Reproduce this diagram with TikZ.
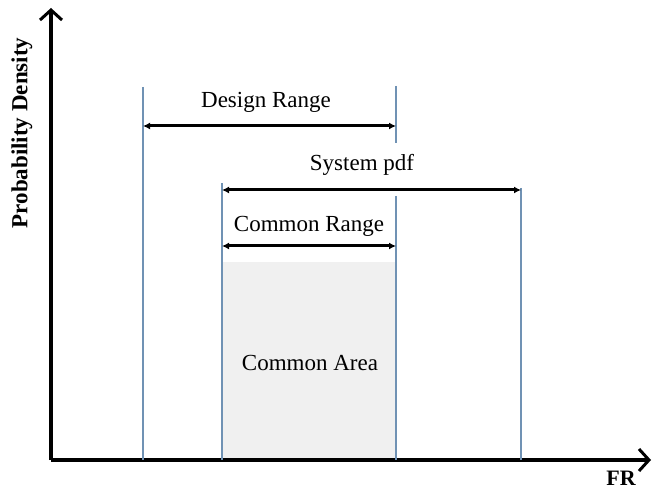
\documentclass[tikz,border=0pt]{standalone}
\usepackage{fontspec}
\setmainfont{Liberation Serif}
\usetikzlibrary{arrows.meta}
\definecolor{rangeblue}{RGB}{112,146,180}
\definecolor{areagrey}{RGB}{240,240,240}
\begin{document}
\begin{tikzpicture}[x=1pt,y=1pt,
  axis/.style={line width=3.6pt, -{Straight Barb[length=10pt,width=22pt,line width=3pt]}},
  limit/.style={rangeblue, line width=1.6pt},
  span/.style={line width=3pt, {Latex[length=7pt,width=7pt]}-{Latex[length=7pt,width=7pt]}},
  lbl/.style={font=\fontsize{23}{23}\selectfont}]
\useasboundingbox (0,0) rectangle (652,490);

% common area
\fill [areagrey] (222,30) rectangle (396,228);

% axes
\coordinate (o) at (51,30);
\coordinate (ytop) at (51,482);
\coordinate (xend) at (651,30);
\draw [axis] (o) -- (ytop);
\draw [axis] (o) -- (xend);
\node [lbl, font=\fontsize{23}{23}\selectfont\bfseries, rotate=90] (ylab) at (22,357){Probability Density};
\node [lbl, font=\fontsize{22}{22}\selectfont\bfseries] (xlab) at (621,12){FR};

% vertical limits
\coordinate (d1top) at (143,403); \coordinate (d1bot) at (143,30);
\coordinate (d2top) at (396,404); \coordinate (d2bot) at (396,347);
\coordinate (c2top) at (396,294); \coordinate (c2bot) at (396,30);
\coordinate (s1top) at (222,307); \coordinate (s1bot) at (222,30);
\coordinate (s2top) at (521,302); \coordinate (s2bot) at (521,30);
\draw [limit] (d1top) -- (d1bot);
\draw [limit] (d2top) -- (d2bot);
\draw [limit] (c2top) -- (c2bot);
\draw [limit] (s1top) -- (s1bot);
\draw [limit] (s2top) -- (s2bot);

% range arrows with labels
\coordinate (dl) at (143,364); \coordinate (dr) at (396,364);
\draw [span] (dl) -- (dr);
\node [lbl] (design) at (266,388){Design Range};

\coordinate (sl) at (222,300); \coordinate (sr) at (521,300);
\draw [span] (sl) -- (sr);
\node [lbl] (system) at (362,325){System pdf};

\coordinate (cl) at (222,244); \coordinate (cr) at (396,244);
\draw [span] (cl) -- (cr);
\node [lbl] (common) at (309,264){Common Range};

\node [lbl] (area) at (310,127){Common Area};
\end{tikzpicture}
\end{document}
